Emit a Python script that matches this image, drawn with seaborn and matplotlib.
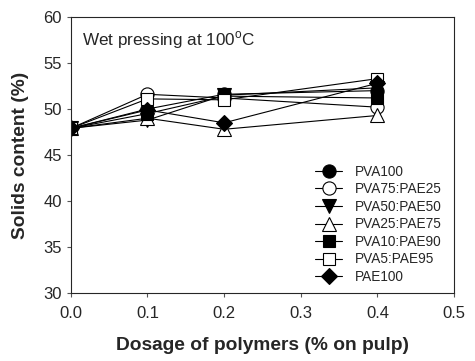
import matplotlib
matplotlib.use("Agg")
import matplotlib.pyplot as plt
import seaborn as sns
import pandas as pd

sns.set_style("ticks")
plt.rcParams['font.family'] = ['Liberation Sans', 'DejaVu Sans']
plt.rcParams['mathtext.fontset'] = 'custom'
plt.rcParams['mathtext.rm'] = 'Liberation Sans'

# dosage (% on pulp)
dosage = [0.0, 0.1, 0.2, 0.4]

# solids content (%) per polymer blend
pva100 = [47.9, 50.0, 51.6, 52.0]
pva75_pae25 = [47.9, 51.6, 51.2, 50.2]
pva50_pae50 = [47.9, 48.8, 51.5, 52.3]
pva25_pae75 = [47.9, 49.0, 47.8, 49.3]
pva10_pae90 = [47.9, 49.5, 51.4, 51.2]
pva5_pae95 = [47.9, 51.1, 51.0, 53.3]
pae100 = [47.9, 49.9, 48.5, 52.8]

series = [
    ("PVA100", pva100, "o", "black"),
    ("PVA75:PAE25", pva75_pae25, "o", "white"),
    ("PVA50:PAE50", pva50_pae50, "v", "black"),
    ("PVA25:PAE75", pva25_pae75, "^", "white"),
    ("PVA10:PAE90", pva10_pae90, "s", "black"),
    ("PVA5:PAE95", pva5_pae95, "s", "white"),
    ("PAE100", pae100, "D", "black"),
]

fig = plt.figure(figsize=(4.75, 3.61), dpi=100)
ax = fig.add_axes([0.149, 0.188, 0.807, 0.765])

for name, vals, mk, fc in series:
    df = pd.DataFrame({"x": dosage, "y": vals})
    ms = 8 if mk in ("D", "s") else 9.5
    sns.lineplot(data=df, x="x", y="y", ax=ax, color="black", lw=0.8,
                 marker=mk, markersize=ms, markerfacecolor=fc,
                 markeredgecolor="black", markeredgewidth=0.8, label=name)

ax.set_xlim(0, 0.5)
ax.set_ylim(30, 60)
ax.set_xticks([0.0, 0.1, 0.2, 0.3, 0.4, 0.5])
ax.set_yticks([30, 35, 40, 45, 50, 55, 60])
ax.set_xticklabels(["0.0", "0.1", "0.2", "0.3", "0.4", "0.5"])
ax.tick_params(direction="out", length=3, width=0.8, labelsize=12, color="#555555")
ax.tick_params(axis="x", pad=6)
for s in ax.spines.values():
    s.set_linewidth(0.8)

ax.set_xlabel("Dosage of polymers (% on pulp)", fontsize=13.8, fontweight="bold", labelpad=12)
ax.set_ylabel("Solids content (%)", fontsize=13.8, fontweight="bold", labelpad=10)

ax.text(0.03, 0.955, r"Wet pressing at 100$^\mathregular{o}$C", transform=ax.transAxes,
        fontsize=12.3, va="top", ha="left")

ax.legend(loc="upper left", bbox_to_anchor=(0.637, 0.465), frameon=False,
          fontsize=9.8, handlelength=2.0, handletextpad=0.95, labelspacing=0.26,
          borderpad=0, borderaxespad=0)

fig.savefig("out.png", dpi=100)
